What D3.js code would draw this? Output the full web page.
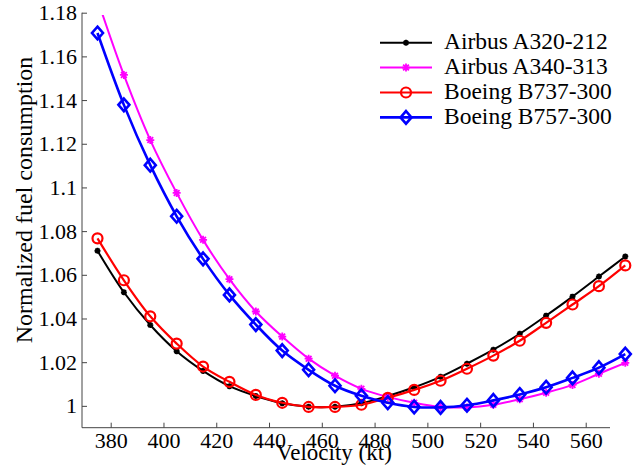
<!DOCTYPE html>
<html>
<head>
<meta charset="utf-8">
<script src="https://cdn.jsdelivr.net/npm/d3@7"></script>
<style>
  html, body { margin: 0; padding: 0; background: #fff; }
  svg { display: block; }
  text { font-family: "Liberation Serif", "Times New Roman", serif; fill: #000; }
</style>
</head>
<body>
<svg id="chart" width="636" height="475"></svg>
<script>
// ---- data ----
const velocity = [375, 385, 395, 405, 415, 425, 435, 445, 455, 465, 475, 485, 495, 505, 515, 525, 535, 545, 555, 565, 575];
const a320 = [1.071, 1.052, 1.037, 1.025, 1.016, 1.009, 1.0045, 1.0012, 0.9996, 0.9996, 1.0012, 1.0045, 1.0085, 1.0133, 1.0193, 1.0257, 1.033, 1.0413, 1.050, 1.0592, 1.0684];
const a340 = [1.186, 1.1515, 1.1217, 1.0975, 1.076, 1.058, 1.0432, 1.0317, 1.0216, 1.0138, 1.0078, 1.0041, 1.0014, 0.9995, 0.9993, 1.0005, 1.003, 1.006, 1.0096, 1.0147, 1.0197];
const b737 = [1.0767, 1.0575, 1.041, 1.0285, 1.018, 1.011, 1.005, 1.0014, 0.9995, 0.9995, 1.0005, 1.0037, 1.0073, 1.0115, 1.017, 1.023, 1.0298, 1.038, 1.0464, 1.0548, 1.0643];
const b757 = [1.1707, 1.1378, 1.1102, 1.0868, 1.0673, 1.0508, 1.0372, 1.0253, 1.0165, 1.0092, 1.0046, 1.0014, 0.9995, 0.9993, 1.0003, 1.0025, 1.0052, 1.0085, 1.0128, 1.0175, 1.0237];
const seriesNames = ["Airbus A320-212", "Airbus A340-313", "Boeing B737-300", "Boeing B757-300"];
const xTicks = [380, 400, 420, 440, 460, 480, 500, 520, 540, 560];
const xTickLabels = ["380", "400", "420", "440", "460", "480", "500", "520", "540", "560"];
const yTicks = [1, 1.02, 1.04, 1.06, 1.08, 1.1, 1.12, 1.14, 1.16, 1.18];
const yTickLabels = ["1", "1.02", "1.04", "1.06", "1.08", "1.1", "1.12", "1.14", "1.16", "1.18"];
const xLabel = "Velocity (kt)";
const yLabel = "Normalized fuel consumption";

// ---- styles ----
const styles = [
  { color: "#000000", width: 2,   marker: "star",    size: 3 },
  { color: "#ff00ff", width: 2,   marker: "star",    size: 4 },
  { color: "#ff0000", width: 2.2, marker: "circle",  size: 5 },
  { color: "#0000ff", width: 2.6, marker: "diamond", size: 5.5 }
];
const seriesData = [a320, a340, b737, b757];

const svg = d3.select("#chart");
const x = d3.scaleLinear().domain([370, 570]).range([84.3, 612.1]);
const y = d3.scaleLinear().domain([0.99, 1.18]).range([427.7, 12.7]);

// axes
const axisColor = "#444";
const gx = svg.append("g").attr("transform", "translate(0,427.7)")
  .call(d3.axisBottom(x).tickValues(xTicks).tickFormat((d, i) => xTickLabels[i])
    .tickSize(-5).tickSizeOuter(0).tickPadding(4.5));
const gy = svg.append("g").attr("transform", "translate(82,0)")
  .call(d3.axisLeft(y).tickValues(yTicks).tickFormat((d, i) => yTickLabels[i])
    .tickSize(-5).tickSizeOuter(0).tickPadding(5));
[gx, gy].forEach(g => {
  g.select(".domain").remove();
  g.selectAll(".tick line").attr("stroke", axisColor).attr("stroke-width", 1);
  g.selectAll(".tick text").attr("font-size", 22).attr("font-family", "Liberation Serif").attr("fill", "#000");
});
svg.append("line").attr("x1", 82).attr("x2", 610).attr("y1", 427.7).attr("y2", 427.7)
  .attr("stroke", axisColor).attr("stroke-width", 1);
svg.append("line").attr("x1", 82).attr("x2", 82).attr("y1", 12.7).attr("y2", 427.7)
  .attr("stroke", axisColor).attr("stroke-width", 1);

// labels
svg.append("text").attr("x", 334).attr("y", 460).attr("text-anchor", "middle")
  .attr("font-size", 23).text(xLabel);
svg.append("text").attr("transform", "translate(32,200) rotate(-90)").attr("text-anchor", "middle")
  .attr("font-size", 24).text(yLabel);

// clip (top only)
svg.append("defs").append("clipPath").attr("id", "clip")
  .append("rect").attr("x", 0).attr("y", 15).attr("width", 636).attr("height", 460);

function markerPath(type, s) {
  if (type === "star") {
    const d = s * 0.72;
    return `M${-s},0L${s},0M0,${-s}L0,${s}M${-d},${-d}L${d},${d}M${-d},${d}L${d},${-d}`;
  }
  if (type === "diamond") {
    const h = s * 1.15;
    return `M0,${-h}L${s},0L0,${h}L${-s},0Z`;
  }
  return null;
}
function drawMarker(g, st, cx, cy) {
  if (st.marker === "circle") {
    g.append("circle").attr("cx", cx).attr("cy", cy).attr("r", st.size)
      .attr("fill", "none").attr("stroke", st.color).attr("stroke-width", 2.2);
  } else {
    g.append("path").attr("transform", `translate(${cx},${cy})`)
      .attr("d", markerPath(st.marker, st.size))
      .attr("fill", "none").attr("stroke", st.color)
      .attr("stroke-width", st.marker === "diamond" ? 2.6 : 1.8);
  }
}

const plot = svg.append("g").attr("clip-path", "url(#clip)");
const line = d3.line().x(d => x(d[0])).y(d => y(d[1])).curve(d3.curveCatmullRom.alpha(0.5));
seriesData.forEach((vals, si) => {
  const st = styles[si];
  const pts = velocity.map((v, i) => [v, vals[i]]);
  const g = plot.append("g");
  g.append("path").attr("d", line(pts)).attr("fill", "none")
    .attr("stroke", st.color).attr("stroke-width", st.width).attr("stroke-linejoin", "round");
  pts.forEach(p => drawMarker(g, st, x(p[0]), y(p[1])));
});

// legend
const lg = svg.append("g");
seriesNames.forEach((name, i) => {
  const st = styles[i];
  const ly = 42.7 + i * 24.9;
  lg.append("line").attr("x1", 380).attr("x2", 432).attr("y1", ly).attr("y2", ly)
    .attr("stroke", st.color).attr("stroke-width", st.width);
  drawMarker(lg, st, 406, ly);
  lg.append("text").attr("x", 444).attr("y", ly + 6.5).attr("font-size", 23.5).text(name);
});
</script>
</body>
</html>
